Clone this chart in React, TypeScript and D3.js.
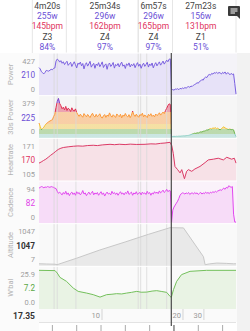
import * as d3 from 'd3';

type Pt = [number, number];

// time axis in minutes
const END = 81;
const STEP = 0.5;

// intervals shown in the header
const intervalStart = [2.1, 15.2, 44.4, 53.7];
const intervalEnd = [6.4, 40.7, 51.4, 81];
const intervalTime = ['4m20s', '25m34s', '6m57s', '27m23s'];
const intervalWatts = ['255w', '296w', '296w', '156w'];
const intervalBpm = ['145bpm', '162bpm', '165bpm', '131bpm'];
const intervalZone = ['Z3', 'Z4', 'Z4', 'Z1'];
const intervalPct = ['84%', '97%', '97%', '51%'];

const lapMarks = [6.2, 7.5, 15.2, 40.8, 41.8, 44.3, 52.5];
const cursorTime = 54.4;
const cursorDist = '17.35';
const distKm = ['10', '20', '30'];
const distTime = [25.9, 59.2, 67.8];
const timeTicks = [5.5, 15.5, 25.5, 35.5, 45.5, 55.5, 65.5, 75.5];

const seriesNames = ['Power', '30s Power', 'Heartrate', 'Cadence', 'Altitude', "W'bal"];
const seriesMin = [0, 0, 105, 0, 7, 0];
const seriesMax = [427, 379, 171, 94, 1047, 25.9];
const maxLabels = ['427', '379', '171', '94', '1047', '25.9'];
const minLabels = ['0', '0', '105', '0', '7', '0.0'];
const nowLabels = ['210', '225', '170', '82', '1047', '7.2'];

// sampled every STEP minutes
const power = [
  305, 290, 257, 245, 233, 250, 273, 268, 264, 275,
  285, 280, 296, 300, 380, 403, 392, 368, 385, 355,
  372, 340, 362, 378, 331, 350, 366, 318, 347, 372,
  338, 301, 356, 343, 368, 325, 352, 290, 339, 361,
  322, 348, 377, 310, 336, 354, 297, 345, 329, 362,
  315, 340, 371, 306, 333, 348, 285, 342, 357, 318,
  336, 364, 299, 341, 327, 352, 313, 346, 368, 321,
  337, 295, 349, 330, 359, 312, 343, 326, 351, 304,
  338, 362, 320, 345, 297, 334, 356, 319, 341, 366,
  311, 347, 328, 358, 302, 339, 362, 325, 349, 371,
  333, 356, 380, 345, 368, 391, 372, 402, 405, 48,
  52, 45, 58, 55, 62, 50, 66, 60, 70, 64,
  75, 68, 80, 86, 78, 92, 88, 102, 110, 118,
  131, 125, 146, 152, 168, 160, 185, 196, 190, 215,
  226, 218, 238, 230, 247, 240, 252, 236, 249, 243,
  231, 250, 238, 255, 229, 246, 240, 222, 238, 226,
  232, 120, 0,
];

const power30 = [
  140, 105, 72, 85, 98, 118, 133, 142, 155, 160,
  168, 174, 205, 230, 300, 360, 392, 340, 318, 286,
  302, 275, 310, 268, 292, 281, 258, 296, 270, 262,
  285, 248, 226, 208, 231, 214, 199, 237, 219, 204,
  228, 211, 196, 222, 240, 213, 201, 229, 206, 218,
  235, 203, 190, 214, 227, 198, 221, 209, 244, 216,
  200, 225, 212, 197, 233, 218, 205, 230, 193, 221,
  209, 238, 214, 202, 226, 195, 219, 262, 224, 207,
  231, 212, 199, 227, 216, 241, 204, 222, 210, 196,
  229, 215, 236, 208, 221, 203, 232, 217, 226, 245,
  221, 238, 252, 236, 268, 290, 318, 336, 330, 2,
  3, 4, 3, 5, 4, 6, 5, 7, 8, 9,
  8, 11, 12, 14, 18, 22, 27, 31, 36, 34,
  40, 38, 45, 50, 48, 56, 58, 62, 70, 68,
  78, 84, 80, 90, 86, 93, 82, 88, 76, 72,
  80, 95, 101, 90, 84, 78, 74, 80, 72, 75,
  70, 30, 0,
];

const cadence = [
  86, 88, 90, 89, 87, 89, 88, 90, 89, 88,
  90, 89, 88, 86, 85, 78, 73, 76, 72, 69,
  75, 71, 78, 70, 74, 67, 73, 76, 70, 74,
  68, 77, 72, 75, 69, 73, 80, 71, 74, 67,
  72, 76, 70, 73, 78, 69, 74, 71, 75, 68,
  73, 77, 70, 74, 66, 72, 76, 71, 73, 69,
  78, 72, 75, 70, 74, 68, 73, 77, 71, 74,
  69, 75, 72, 79, 70, 73, 76, 68, 74, 71,
  77, 70, 73, 75, 69, 76, 72, 74, 70, 78,
  72, 75, 68, 74, 71, 77, 73, 76, 72, 79,
  74, 77, 81, 75, 78, 83, 77, 80, 79, 0,
  30, 38, 43, 48, 53, 60, 68, 72, 74, 73,
  71, 74, 72, 75, 70, 73, 74, 71, 75, 72,
  74, 70, 73, 75, 71, 74, 72, 76, 73, 75,
  72, 76, 74, 77, 75, 78, 76, 79, 80, 82,
  80, 84, 86, 83, 88, 86, 92, 90, 88, 90,
  20, 0, 0,
];

// [minute, value]
const heartrate: Pt[] = [
  [0, 134], [0.9, 136], [1.8, 138.5], [2.8, 141], [3.8, 144.4], [4.8, 148], [5.9, 151.4],
  [6.9, 155], [7.9, 158.3], [9, 160.5], [10, 161.8], [12, 163], [14.1, 164], [16, 164.6],
  [18, 164.2], [20, 165.3], [22.3, 165.8], [24, 165.2], [26, 166.4], [29.2, 167.5],
  [31, 166.8], [33, 167.6], [35.4, 167], [37.5, 167.8], [40, 167.2], [43.6, 167.5],
  [46, 168.3], [48, 168], [50, 169.2], [51.8, 169.8], [53.9, 171], [54.6, 165],
  [55.2, 151.4], [55.9, 128], [57, 122.4], [58, 116.6], [58.7, 122.4], [59.8, 106.2],
  [60.7, 119.4], [61.4, 122.4], [62.8, 119.4], [64.1, 123.6], [66.2, 128.1], [68.3, 135],
  [69.6, 139.7], [71.7, 141], [73.7, 142.7], [75.8, 139.7], [77.2, 144.4], [79.2, 141],
  [80.3, 142.7], [81, 134],
];

const altitude: Pt[] = [
  [0, 34], [3, 28], [6.6, 21], [7.4, 7], [15.5, 191], [25, 420], [35.4, 645], [45, 860],
  [53.9, 1047], [59.4, 1040], [67.6, 234], [68.3, 7], [70, 30], [73.1, 54], [77, 45],
  [79.9, 34], [81, 34],
];

const wbal: Pt[] = [
  [0, 25.9], [6.6, 25.7], [7.5, 24], [8.6, 21], [11.3, 18.2], [14.1, 13.5], [16.1, 11.2],
  [19.6, 10], [22.3, 8.9], [25.1, 7.2], [27.8, 8.9], [30, 9.2], [31.9, 9.6], [34, 9.4],
  [36, 10], [38, 10.5], [40.2, 11.2], [42, 10.6], [44.3, 10.7], [46.5, 11.4], [48.4, 11.7],
  [50.5, 11.1], [52.5, 10.5], [53.9, 7.7], [54.4, 7], [55.3, 12.4], [56.6, 18.2],
  [58.6, 22.9], [62.1, 25.2], [68.9, 25.9], [81, 25.9],
];

// 30s power zone bands
const zoneLimits = [0, 30, 75, 130, 250, 340, 440];

const zoneColors = ['#8fd0c6', '#6cb34a', '#f3c232', '#fb9838', '#df2f52', '#7b3fc9'];
const styles = [
  { line: '#7a60e0', fill: '#e7e2f8', bg: '#f4f3f8', now: '#6b4fd6' },
  { line: 'url(#zoneLine)', fill: 'url(#zoneLine)', bg: '#f6f6f6', now: '#6b4fd6' },
  { line: '#dc3a66', fill: '#f7e1e7', bg: '#f8f4f5', now: '#e0335e' },
  { line: '#e248f0', fill: '#f7dcf8', bg: '#faf2fa', now: '#e040e8' },
  { line: '#c8c8c8', fill: '#e9e9e9', bg: '#f9f9f9', now: '#333333' },
  { line: '#74c05c', fill: '#e9f3e4', bg: '#fafafa', now: '#5aa844' },
];

const FONT = 'Roboto, sans-serif';

export default function App() {
  const W = 250;
  const H = 331;
  const left = 39;
  const right = 236;
  const headH = 53;
  const plotBottom = 309;
  const panelH = (plotBottom - headH) / 6;

  const x = d3.scaleLinear().domain([0, END]).range([left, right]);
  const sampled = (arr: number[]): Pt[] => arr.map((v, i) => [i * STEP, v]);
  const data: Pt[][] = [sampled(power), sampled(power30), heartrate, sampled(cadence), altitude, wbal];

  const panels = seriesNames.map((name, i) => {
    const top = headH + i * panelH;
    const bottom = top + panelH;
    const y = d3
      .scaleLinear()
      .domain([seriesMin[i], seriesMax[i]])
      .range([bottom - 1.6, top + 4]);
    const line = d3
      .line<Pt>()
      .x((d) => x(d[0]))
      .y((d) => y(d[1]));
    const area = d3
      .area<Pt>()
      .x((d) => x(d[0]))
      .y0(bottom)
      .y1((d) => y(d[1]));
    return { name, i, top, bottom, y, line: line(data[i]) || '', area: area(data[i]) || '' };
  });

  const y30 = panels[1].y;
  const zMax = seriesMax[1];

  // header boxes: centred on each interval, at least 34px wide, never overlapping the previous box
  const header: { cx: number; x0: number; x1: number; i: number }[] = [];
  intervalStart.forEach((s, i) => {
    const xs = x(s);
    const xe = x(intervalEnd[i]);
    const cx = (xs + xe) / 2;
    const half = Math.max((xe - xs) / 2, 17);
    const prev = header[i - 1];
    const x0 = prev ? Math.max(cx - half, prev.x1) : cx - half;
    header.push({ cx, x0, x1: cx + half, i });
  });

  const headRows = [intervalTime, intervalWatts, intervalBpm, intervalZone, intervalPct];
  const headColors = ['#444', '#6b4fd6', '#e0335e', '#444', '#6b4fd6'];

  return (
    <svg width={W} height={H} style={{ display: 'block', position: 'absolute', left: 0, top: 0 }} fontFamily={FONT}>
      <defs>
        <linearGradient id="zoneLine" gradientUnits="userSpaceOnUse" x1={0} x2={0} y1={y30(0)} y2={y30(zMax)}>
          {zoneColors.map((c, k) => [
            <stop key={`a${k}`} offset={Math.min(1, zoneLimits[k] / zMax)} stopColor={c} />,
            <stop key={`b${k}`} offset={Math.min(1, zoneLimits[k + 1] / zMax)} stopColor={c} />,
          ])}
        </linearGradient>
      </defs>
      <rect width={W} height={H} fill="#ffffff" />

      {/* header */}
      {header.map((h) => (
        <g key={h.i}>
          <line x1={h.x0} x2={h.x0} y1={0} y2={headH} stroke="#e6e6e6" />
          <line x1={h.x1} x2={h.x1} y1={0} y2={headH} stroke="#e6e6e6" />
          {headRows.map((row, r) => (
            <text
              key={r}
              x={h.cx - 2}
              y={6 + r * 10.2}
              textAnchor="middle"
              dominantBaseline="central"
              fontSize={8.5}
              fill={headColors[r]}
            >
              {row[h.i]}
            </text>
          ))}
        </g>
      ))}
      <g transform="translate(228,6)">
        <rect width={12} height={10} rx={1} fill="#3a3a3a" />
        <path d="M9,10 L12,13 L12,9 Z" fill="#3a3a3a" />
        <line x1={2.5} x2={9.5} y1={3} y2={3} stroke="#fff" strokeWidth={1} />
        <line x1={2.5} x2={9.5} y1={5} y2={5} stroke="#fff" strokeWidth={1} />
        <line x1={2.5} x2={7} y1={7} y2={7} stroke="#fff" strokeWidth={1} />
      </g>

      {/* gutter and right strip */}
      <rect x={0} y={headH} width={left} height={H - headH} fill="#fbfbfb" />
      <rect x={right + 1} y={headH} width={W - right - 1} height={H - headH} fill="#f2f2f2" />

      {/* panel backgrounds and fills */}
      {panels.map((p) => (
        <g key={p.name}>
          <rect x={left} y={p.top} width={right - left + 1} height={p.bottom - p.top} fill={styles[p.i].bg} />
          <path d={p.area} fill={styles[p.i].fill} fillOpacity={p.i === 1 ? 0.42 : 1} />
        </g>
      ))}

      {/* lap markers */}
      {lapMarks.map((t) => (
        <line key={t} x1={x(t)} x2={x(t)} y1={headH} y2={322} stroke="#d9d9d9" strokeWidth={0.8} />
      ))}

      {panels.map((p) => (
        <path key={p.name} d={p.line} fill="none" stroke={styles[p.i].line} strokeWidth={1} strokeLinejoin="round" />
      ))}

      {panels.map((p) => (
        <line key={p.name} x1={left} x2={right + 1} y1={p.top} y2={p.top} stroke="#ffffff" strokeWidth={1} />
      ))}

      {/* x axis row */}
      <rect x={left} y={plotBottom} width={right - left + 1} height={13} fill="#fafafa" />
      {distKm.map((k, i) => (
        <g key={k}>
          <line x1={x(distTime[i])} x2={x(distTime[i])} y1={plotBottom} y2={320} stroke="#d4d4d4" />
          <text x={x(distTime[i]) - 2} y={315.5} textAnchor="end" dominantBaseline="central" fontSize={7.5} fill="#999">
            {k}
          </text>
        </g>
      ))}
      <line x1={left} x2={right} y1={322.5} y2={322.5} stroke="#e3e3e3" />
      {timeTicks.map((t) => (
        <line
          key={t}
          x1={x(t)}
          x2={x(t)}
          y1={325}
          y2={331}
          stroke={Math.abs(t - cursorTime) < 2 ? '#444' : '#aaa'}
          strokeWidth={1}
        />
      ))}
      <text x={35} y={315.5} textAnchor="end" dominantBaseline="central" fontSize={8.5} fontWeight="bold" fill="#333">
        {cursorDist}
      </text>

      {/* cursor */}
      <line x1={x(cursorTime)} x2={x(cursorTime)} y1={headH} y2={326} stroke="#4a4a4a" strokeWidth={1.2} />

      {/* gutter labels */}
      {panels.map((p) => (
        <g key={p.name}>
          <text
            transform={`translate(10,${(p.top + p.bottom) / 2}) rotate(-90)`}
            textAnchor="middle"
            dominantBaseline="central"
            fontSize={7.5}
            fill="#b3b3b3"
          >
            {p.name}
          </text>
          <text x={35} y={p.top + 8} textAnchor="end" dominantBaseline="central" fontSize={7.5} fill="#9e9e9e">
            {maxLabels[p.i]}
          </text>
          <text
            x={35}
            y={p.top + 22}
            textAnchor="end"
            dominantBaseline="central"
            fontSize={8.2}
            fontWeight={p.i === 4 ? 'bold' : 'normal'}
            fill={styles[p.i].now}
          >
            {nowLabels[p.i]}
          </text>
          <text x={35} y={p.bottom - 6.5} textAnchor="end" dominantBaseline="central" fontSize={7.5} fill="#9e9e9e">
            {minLabels[p.i]}
          </text>
        </g>
      ))}
    </svg>
  );
}
